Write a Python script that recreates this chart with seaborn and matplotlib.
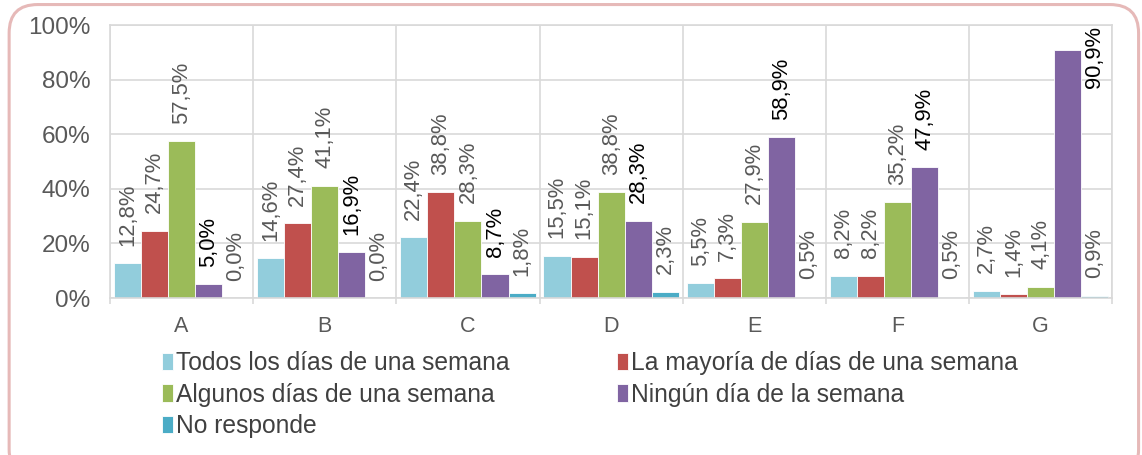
import pandas as pd
import matplotlib.pyplot as plt
import seaborn as sns
import numpy as np
from matplotlib.ticker import PercentFormatter
from matplotlib.patches import FancyBboxPatch

# Datos del gráfico
categorias = ['A', 'B', 'C', 'D', 'E', 'F', 'G']
series = ['Todos los días de una semana', 'La mayoría de días de una semana',
          'Algunos días de una semana', 'Ningún día de la semana', 'No responde']
todos = [12.8, 14.6, 22.4, 15.5, 5.5, 8.2, 2.7]
mayoria = [24.7, 27.4, 38.8, 15.1, 7.3, 8.2, 1.4]
algunos = [57.5, 41.1, 28.3, 38.8, 27.9, 35.2, 4.1]
ninguno = [5.0, 16.9, 8.7, 28.3, 58.9, 47.9, 90.9]
no_responde = [0.0, 0.0, 1.8, 2.3, 0.5, 0.5, 0.9]
valores = [todos, mayoria, algunos, ninguno, no_responde]
colores = ['#92CDDC', '#C0504D', '#9BBB59', '#8064A2', '#4BACC6']

# Tabla en formato largo para seaborn
df = pd.DataFrame({
    'categoria': categorias * len(series),
    'serie': np.repeat(series, len(categorias)),
    'valor': np.concatenate(valores),
})

plt.rcParams['font.family'] = ['Liberation Sans', 'DejaVu Sans']
fig = plt.figure(figsize=(11.42, 4.55), dpi=100)
ax = fig.add_axes([0.0963, 0.345, 0.8777, 0.600])

sns.barplot(data=df, x='categoria', y='valor', hue='serie', hue_order=series,
            palette=colores, width=0.945, gap=0, edgecolor='white', linewidth=0.6,
            saturation=1, ax=ax)

# Etiquetas de datos
for i, cont in enumerate(ax.containers):
    for bar, v in zip(cont, valores[i]):
        x = bar.get_x() + bar.get_width() / 2
        color = 'black' if i == 3 else '#595959'
        texto = f'{v:.1f}'.replace('.', ',') + '%'
        if v > 80:
            ax.annotate(texto, (x, 100), xytext=(19, -1), textcoords='offset points',
                        rotation=90, ha='center', va='top', fontsize=15.8, color=color)
        else:
            ax.annotate(texto, (x, v), xytext=(0, 12.5), textcoords='offset points',
                        rotation=90, ha='center', va='bottom', fontsize=15.8, color=color)

# Ejes y rejilla
ax.set_ylim(0, 100)
ax.set_xlim(-0.5, 6.5)
ax.set_yticks(range(0, 101, 20))
ax.yaxis.set_major_formatter(PercentFormatter(100, decimals=0))
ax.set_xticks(np.arange(-0.5, 7, 1), minor=True)
ax.grid(axis='y', which='major', color='#d9d9d9', linewidth=1.2)
ax.grid(axis='x', which='minor', color='#d9d9d9', linewidth=1.2)
ax.set_axisbelow(True)
for s in ax.spines.values():
    s.set_color('#d9d9d9')
    s.set_linewidth(1.2)
ax.tick_params(axis='y', length=0, pad=14, labelsize=17.5, labelcolor='#595959')
ax.tick_params(axis='x', which='major', length=0, pad=13, labelsize=15.5, labelcolor='#595959')
ax.tick_params(axis='x', which='minor', length=4, color='#d9d9d9', width=1.2)
ax.set_xlabel('')
ax.set_ylabel('')

# Leyenda en orden por filas
handles, labels = ax.get_legend_handles_labels()
orden = [0, 2, 4, 1, 3]
ax.legend([handles[k] for k in orden], [labels[k] for k in orden], ncol=2,
          loc='upper left', bbox_to_anchor=(0.142, 0.228), bbox_transform=fig.transFigure,
          frameon=False, fontsize=17.7, labelcolor='#404040', handlelength=0.45,
          handleheight=0.7, handletextpad=0.1, columnspacing=4.4, labelspacing=0.3,
          borderaxespad=0, borderpad=0)

# Marco redondeado de la figura
marco = FancyBboxPatch((0.008, -0.05), 0.989, 1.04, boxstyle='round,pad=0,rounding_size=0.025',
                       transform=fig.transFigure, facecolor='none', edgecolor='#e6b9b8',
                       linewidth=2.2, mutation_aspect=2.5)
fig.patches.append(marco)

plt.savefig('out.png', dpi=100)
plt.close()
